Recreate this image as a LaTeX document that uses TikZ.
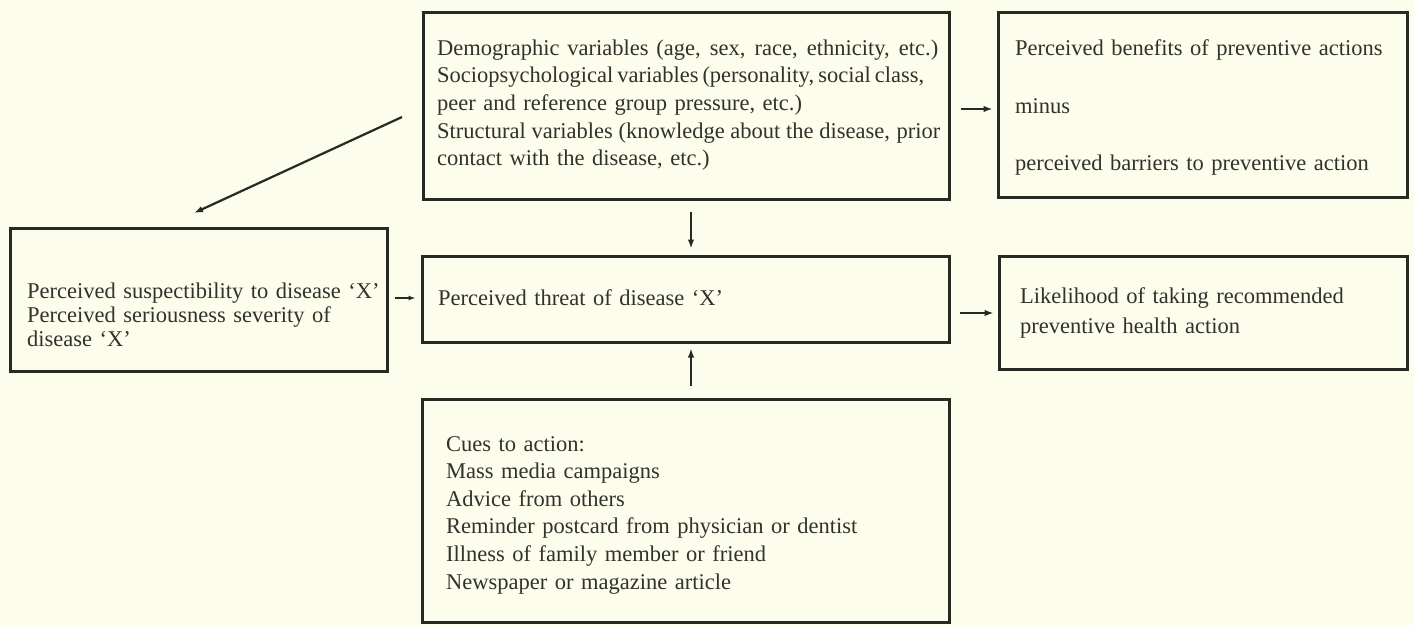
\documentclass[tikz,border=0pt]{standalone}
\usepackage{fontspec}
\setmainfont{Liberation Serif}
\usetikzlibrary{arrows.meta}
\definecolor{bgc}{RGB}{253,253,236}
\definecolor{ink}{RGB}{38,42,34}
\definecolor{txtc}{RGB}{50,50,44}
\newcommand{\tightfont}[2]{\fontsize{#1}{#2}\selectfont}
\newcommand{\jline}[2]{\leavevmode\hbox to #1{\spaceskip=0.1em plus 0.3em minus 0.02em\relax #2}}
\begin{document}
\begin{tikzpicture}[x=1pt,y=-1pt,
  box/.style={draw=ink, line width=3pt, inner sep=0pt},
  txt/.style={anchor=base west, inner sep=0pt, text=txtc, align=left, text width=560pt, font=\tightfont{22.5}{27.7}},
  arr/.style={draw=ink, line width=1.6pt, -{Latex[length=9pt,width=6.5pt]}},
  sarr/.style={draw=ink, line width=1.3pt, -{Latex[length=7pt,width=5pt]}}
]
\fill[bgc] (0,0) rectangle (1414,625);
\useasboundingbox (0,0) rectangle (1414,625);

% boxes
\node[box, minimum width=526pt, minimum height=187pt] (demo) at (686,105.5) {};
\node[box, minimum width=409pt, minimum height=185pt] (benefit) at (1202.5,104.5) {};
\node[box, minimum width=377pt, minimum height=143pt] (percv) at (198.5,299.5) {};
\node[box, minimum width=527pt, minimum height=86pt] (threat) at (685.5,299) {};
\node[box, minimum width=408pt, minimum height=113pt] (likely) at (1203,312.5) {};
\node[box, minimum width=527pt, minimum height=223pt] (cues) at (685.5,510.5) {};

% texts
\node[txt] (demotxt) at (437,55) {\jline{501pt}{Demographic variables (age, sex, race, ethnicity, etc.)}\\
\jline{487pt}{Sociopsychological variables (personality, social class,}\\
peer and reference group pressure, etc.)\\
\jline{503pt}{Structural variables (knowledge about the disease, prior}\\
contact with the disease, etc.)};
\node[txt, font=\tightfont{22.5}{28.5}] (benefittxt) at (1015,55) {Perceived benefits of preventive actions\\[29.5pt]
minus\\[28.5pt]
perceived barriers to preventive action};
\node[txt, font=\tightfont{22.5}{24}] (percvtxt) at (27,298) {Perceived suspectibility to disease `X'\\
Perceived seriousness severity of\\
disease `X'};
\node[txt] (threattxt) at (438,305) {Perceived threat of disease `X'};
\node[txt, font=\tightfont{22.5}{29.5}] (likelytxt) at (1020,303.5) {Likelihood of taking recommended\\
preventive health action};
\node[txt, font=\tightfont{22.5}{27.6}] (cuestxt) at (446,451) {Cues to action:\\
Mass media campaigns\\
Advice from others\\
Reminder postcard from physician or dentist\\
Illness of family member or friend\\
Newspaper or magazine article};

% connector helpers
\coordinate (ax) at (691,0);
\coordinate (ay1) at (0,298);
\coordinate (ay2) at (0,313);
\coordinate (ay3) at (0,109);
\coordinate (dstart) at (402,117);
\coordinate (dend) at (194,213);

% connectors
\draw[arr, line width=2.2pt] (dstart) -- (dend);
\draw[arr, shorten <=11pt, shorten >=6pt] (demo.south -| ax) -- (threat.north -| ax);
\draw[arr, shorten <=12pt, shorten >=5pt] (cues.north -| ax) -- (threat.south -| ax);
\draw[sarr, shorten <=6pt, shorten >=5pt] (percv.east |- ay1) -- (threat.west |- ay1);
\draw[arr, shorten <=9pt, shorten >=4pt] (threat.east |- ay2) -- (likely.west |- ay2);
\draw[arr, shorten <=10pt, shorten >=4pt] (demo.east |- ay3) -- (benefit.west |- ay3);
\end{tikzpicture}
\end{document}
